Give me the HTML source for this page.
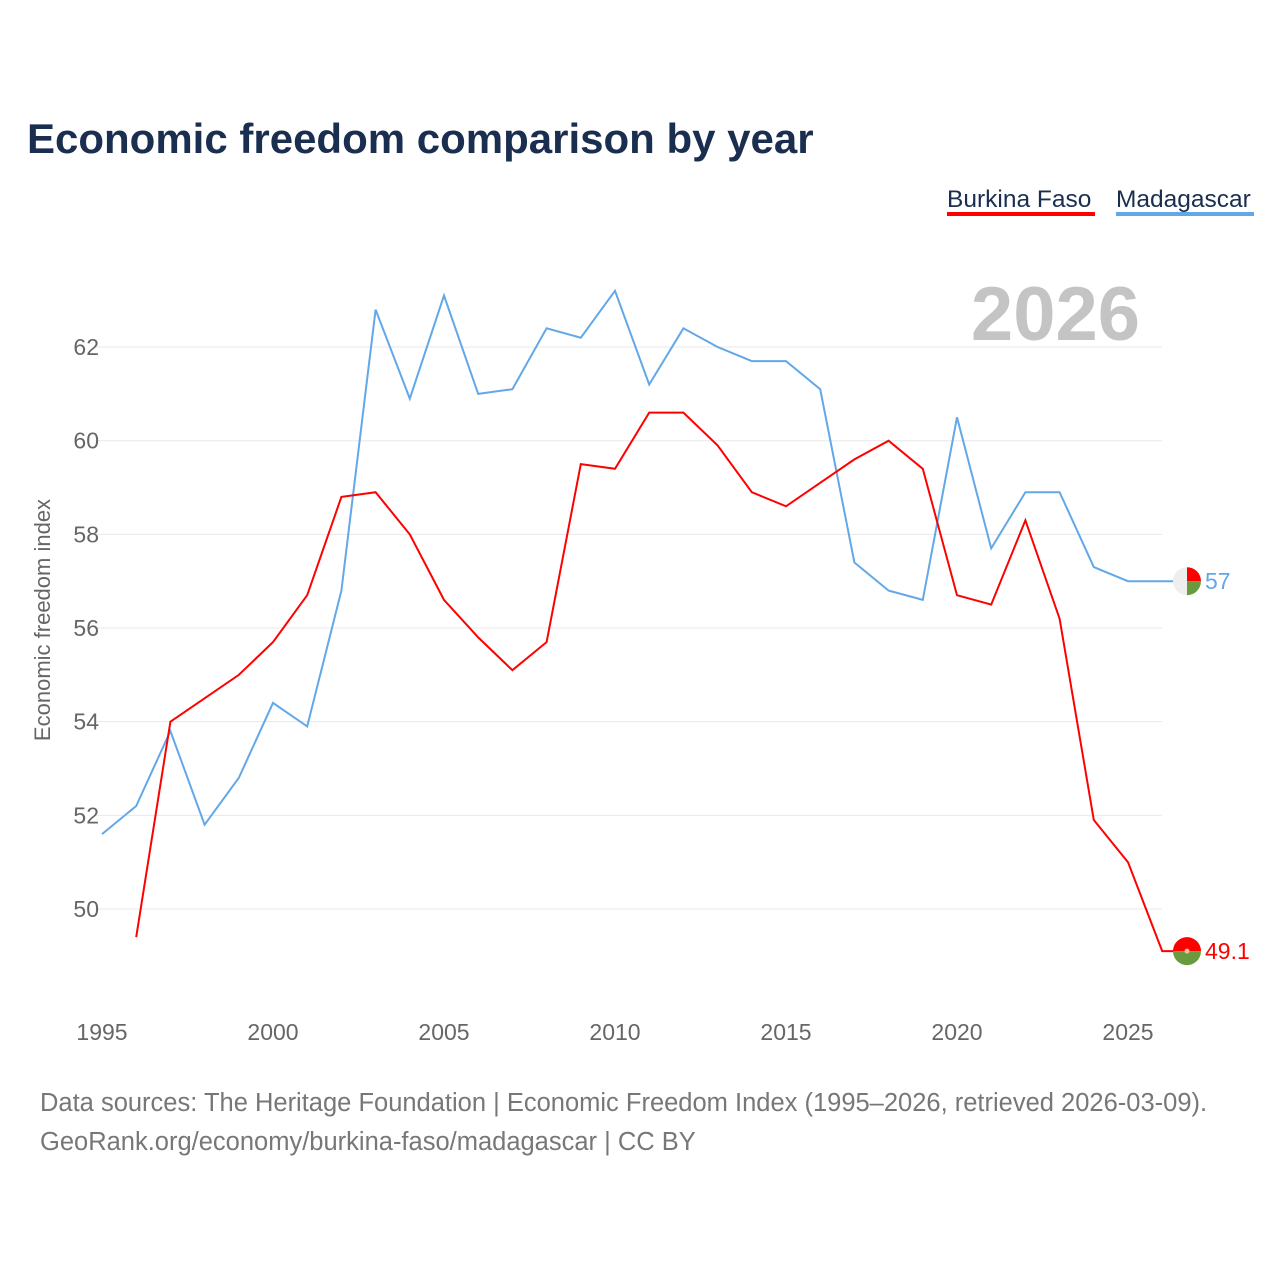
<!DOCTYPE html>
<html><head><meta charset="utf-8"><style>
body{margin:0;background:#fff;font-family:"Liberation Sans",sans-serif;}
#wrap{position:relative;width:1280px;height:1280px;overflow:hidden;}
</style></head><body>
<div id="wrap">
<svg id="chart" width="1280" height="1280">
<text x="27" y="153" font-size="42" font-weight="bold" fill="#1a2e4f">Economic freedom comparison by year</text>
<g><text x="947" y="207" font-size="24.5" fill="#1a2e4f">Burkina Faso</text><rect x="947" y="212" width="148" height="4" fill="#ff0000"/></g>
<g><text x="1116" y="207" font-size="24.5" fill="#1a2e4f">Madagascar</text><rect x="1116" y="212" width="138" height="4" fill="#62a8e8"/></g>
<text x="1140" y="340" font-size="76" font-weight="bold" fill="#c4c4c4" text-anchor="end">2026</text>
<text transform="translate(50,620) rotate(-90)" font-size="22" fill="#666" text-anchor="middle">Economic freedom index</text>
<g id="grid"></g><g id="lines"></g><g id="ends"></g>
<text x="40" y="1111" font-size="25.5" fill="#777">Data sources: The Heritage Foundation | Economic Freedom Index (1995–2026, retrieved 2026-03-09).</text>
<text x="40" y="1150" font-size="25.5" fill="#777">GeoRank.org/economy/burkina-faso/madagascar | CC BY</text>
</svg></div>
<script>
const years=[1995,1996,1997,1998,1999,2000,2001,2002,2003,2004,2005,2006,2007,2008,2009,2010,2011,2012,2013,2014,2015,2016,2017,2018,2019,2020,2021,2022,2023,2024,2025,2026];
const madagascar=[51.6,52.2,53.8,51.8,52.8,54.4,53.9,56.8,62.8,60.9,63.1,61.0,61.1,62.4,62.2,63.2,61.2,62.4,62.0,61.7,61.7,61.1,57.4,56.8,56.6,60.5,57.7,58.9,58.9,57.3,57.0,57.0];
const burkina=[null,49.4,54.0,54.5,55.0,55.7,56.7,58.8,58.9,58.0,56.6,55.8,55.1,55.7,59.5,59.4,60.6,60.6,59.9,58.9,58.6,59.1,59.6,60.0,59.4,56.7,56.5,58.3,56.2,51.9,51.0,49.1];
const yTicks=[50,52,54,56,58,60,62];
const xTicks=[1995,2000,2005,2010,2015,2020,2025];
const X=y=>102+(y-1995)*34.2, Y=v=>909-(v-50)*46.83;
const NS="http://www.w3.org/2000/svg";
function mk(t,a,p){const e=document.createElementNS(NS,t);for(const k in a)e.setAttribute(k,a[k]);p.appendChild(e);return e;}
const g=document.getElementById('grid');
yTicks.forEach(v=>{
 const l=mk('line',{x1:95,x2:1162,y1:Y(v),y2:Y(v),stroke:'#e8e8e8','stroke-width':1},g);
 
 
 const t=mk('text',{x:99,y:Y(v)+8,'font-size':23,fill:'#666','text-anchor':'end'},g);t.textContent=v;
 
 
});
xTicks.forEach(v=>{
 const t=mk('text',{x:X(v),y:1040,'font-size':23,fill:'#666','text-anchor':'middle'},g);t.textContent=v;
 
 
});
const L=document.getElementById('lines');
function line(data,color,name){
 let d='';data.forEach((v,i)=>{if(v==null)return;d+=(d?'L':'M')+X(years[i]).toFixed(1)+','+Y(v).toFixed(1);});
 d+='H1175';
 const p=mk('path',{d:d,fill:'none',stroke:color,'stroke-width':2},L);
 
 
}
line(madagascar,'#62a8e8','madagascar-line');
line(burkina,'#ff0000','burkina-faso-line');
const E=document.getElementById('ends');
const cx=1187;
let my=Y(madagascar[madagascar.length-1]);
let fg=mk('g',{},E);


mk('circle',{cx:cx,cy:my,r:14,fill:'#eee'},fg);
mk('path',{d:`M${cx},${my}V${my-14}A14,14 0 0 1 ${cx+14},${my}Z`,fill:'#ff0000'},fg);
mk('path',{d:`M${cx},${my}H${cx+14}A14,14 0 0 1 ${cx},${my+14}Z`,fill:'#6a9a40'},fg);
let t=mk('text',{x:1205,y:my+8,'font-size':23,fill:'#62a8e8'},E);t.textContent=madagascar[madagascar.length-1];


let by=Y(burkina[burkina.length-1]);
fg=mk('g',{},E);


mk('path',{d:`M${cx-14},${by}A14,14 0 0 1 ${cx+14},${by}Z`,fill:'#ff0000'},fg);
mk('path',{d:`M${cx-14},${by}A14,14 0 0 0 ${cx+14},${by}Z`,fill:'#6a9a40'},fg);
mk('circle',{cx:cx,cy:by,r:2.5,fill:'#f5c0a0'},fg);
t=mk('text',{x:1205,y:by+8,'font-size':23,fill:'#ff0000'},E);t.textContent=burkina[burkina.length-1];


</script>
</body></html>
